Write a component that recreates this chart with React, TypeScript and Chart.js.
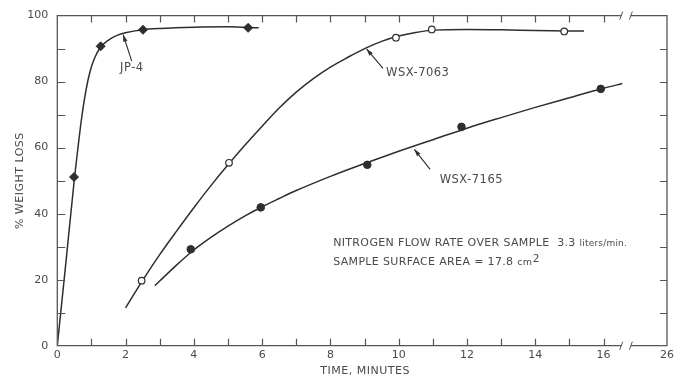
import React, { useEffect, useRef } from 'react';
import { Chart, registerables } from 'chart.js';

Chart.register(...registerables);

// ---- data ----
const jp4CurveX = [0, 0.25, 0.5, 0.6, 0.7, 0.8, 0.9, 1.0, 1.1, 1.25, 1.5, 1.75, 2.0, 2.5, 3.0, 4.0, 5.0, 5.9];
const jp4CurveY = [0, 25, 50.5, 59.5, 68, 75, 80.5, 84.5, 87.3, 90.2, 92.6, 94, 94.8, 95.7, 96.1, 96.5, 96.6, 96.3];
const jp4PointX = [0.49, 1.27, 2.51, 5.59];
const jp4PointY = [51.1, 90.7, 95.7, 96.3];

const wsx7063CurveX = [2.0, 2.5, 3.0, 3.5, 4.0, 4.5, 5.0, 5.5, 6.0, 6.5, 7.0, 7.5, 8.0, 8.5, 9.0, 9.5, 10.0, 10.5, 11.0, 12.0, 13.0, 14.0, 15.43];
const wsx7063CurveY = [11.5, 19.8, 27.6, 34.8, 41.8, 48.5, 54.8, 60.8, 66.5, 72.0, 76.8, 80.9, 84.4, 87.3, 90.0, 92.2, 93.8, 94.9, 95.6, 95.8, 95.7, 95.5, 95.3];
const wsx7063PointX = [2.47, 5.03, 9.92, 10.97, 14.85];
const wsx7063PointY = [19.7, 55.4, 93.3, 95.8, 95.2];

const wsx7165CurveX = [2.86, 3.0, 3.5, 4.0, 4.5, 5.0, 5.5, 6.0, 6.5, 7.0, 8.0, 9.0, 10.0, 11.0, 12.0, 13.0, 14.0, 15.0, 16.0, 16.55];
const wsx7165CurveY = [18.2, 19.6, 24.5, 29.0, 32.8, 36.2, 39.3, 42.1, 44.6, 47.0, 51.3, 55.2, 58.9, 62.4, 65.9, 69.1, 72.2, 75.1, 78.0, 79.4];
const wsx7165PointX = [3.91, 5.96, 9.08, 11.84, 15.92];
const wsx7165PointY = [29.2, 41.9, 54.8, 66.3, 77.8];

const xTickValues = [0, 2, 4, 6, 8, 10, 12, 14, 16];
const xAxisEnd = 17.86; // position of the broken-axis end
const xAxisEndLabel = '26';
const xMinorTicks = [1, 2, 3, 4, 5, 6, 7, 8, 9, 10, 11, 12, 13, 14, 15, 16];
const yTickValues = [0, 20, 40, 60, 80, 100];
const yMinorTicks = [10, 20, 30, 40, 50, 60, 70, 80, 90];
const breakStartX = 16.52;
const breakEndX = 16.8;

const seriesNames = ['JP-4', 'WSX-7063', 'WSX-7165'];
const labelTextX = [1.84, 9.63, 11.2];
const labelTextY = [84.2, 82.75, 50.1];
const arrowFromX = [2.18, 9.54, 10.92];
const arrowFromY = [86.2, 84.0, 53.4];
const arrowToX = [1.93, 9.06, 10.46];
const arrowToY = [94.2, 89.9, 59.5];

const noteLine1 = 'NITROGEN FLOW RATE OVER SAMPLE';
const noteRate = '3.3';
const noteRateUnit = 'liters/min.';
const noteLine2 = 'SAMPLE SURFACE AREA = 17.8';
const noteAreaUnit = 'cm';
const noteAreaExp = '2';
const noteX = 8.08;
const noteY1 = 31.1;
const noteY2 = 25.4;

const xTitle = 'TIME, MINUTES';
const yTitle = '% WEIGHT LOSS';

// ---- style ----
const W = 679;
const H = 383;
const INK = '#2e2e2e';
const AXIS = '#555';
const TEXT = '#4a4a4a';
const FONT = '"DejaVu Sans", sans-serif';

const pts = (xs: number[], ys: number[]) => xs.map((x, i) => ({ x, y: ys[i] }));

const overlay = {
  id: 'overlay',
  afterDraw(chart: any) {
    const { ctx, chartArea: a, scales } = chart;
    const x = scales.x;
    const y = scales.y;
    ctx.save();
    ctx.strokeStyle = AXIS;
    ctx.lineWidth = 1.3;
    const bx0 = x.getPixelForValue(breakStartX);
    const bx1 = x.getPixelForValue(breakEndX);
    ctx.beginPath();
    ctx.moveTo(bx0, a.top);
    ctx.lineTo(a.left, a.top);
    ctx.lineTo(a.left, a.bottom);
    ctx.lineTo(bx0, a.bottom);
    ctx.moveTo(bx1, a.bottom);
    ctx.lineTo(a.right, a.bottom);
    ctx.lineTo(a.right, a.top);
    ctx.lineTo(bx1, a.top);
    ctx.stroke();
    // break marks
    ctx.lineWidth = 1;
    ctx.beginPath();
    for (const yy of [a.top, a.bottom]) {
      for (const bx of [bx0, bx1]) {
        ctx.moveTo(bx - 1.5, yy + 4);
        ctx.lineTo(bx + 1.5, yy - 4);
      }
    }
    ctx.stroke();
    // inner ticks
    ctx.lineWidth = 1.2;
    ctx.beginPath();
    for (const v of xMinorTicks) {
      const px = Math.round(x.getPixelForValue(v)) + 0.5;
      ctx.moveTo(px, a.bottom);
      ctx.lineTo(px, a.bottom - 7);
      ctx.moveTo(px, a.top);
      ctx.lineTo(px, a.top + 7);
    }
    for (const v of yMinorTicks) {
      const py = Math.round(y.getPixelForValue(v)) + 0.5;
      ctx.moveTo(a.left, py);
      ctx.lineTo(a.left + 8, py);
      ctx.moveTo(a.right, py);
      ctx.lineTo(a.right - 7, py);
    }
    ctx.stroke();

    // series labels with arrows
    ctx.fillStyle = TEXT;
    ctx.strokeStyle = INK;
    ctx.font = `11.5px ${FONT}`;
    (ctx as any).letterSpacing = '0.5px';
    ctx.textBaseline = 'middle';
    ctx.textAlign = 'left';
    seriesNames.forEach((name, i) => {
      ctx.fillText(name, x.getPixelForValue(labelTextX[i]), y.getPixelForValue(labelTextY[i]));
      const fx = x.getPixelForValue(arrowFromX[i]);
      const fy = y.getPixelForValue(arrowFromY[i]);
      const tx = x.getPixelForValue(arrowToX[i]);
      const ty = y.getPixelForValue(arrowToY[i]);
      ctx.lineWidth = 1.1;
      ctx.beginPath();
      ctx.moveTo(fx, fy);
      ctx.lineTo(tx, ty);
      ctx.stroke();
      const ang = Math.atan2(ty - fy, tx - fx);
      const L = 7;
      const Wd = 2.2;
      ctx.beginPath();
      ctx.moveTo(tx, ty);
      ctx.lineTo(tx - L * Math.cos(ang) + Wd * Math.sin(ang), ty - L * Math.sin(ang) - Wd * Math.cos(ang));
      ctx.lineTo(tx - L * Math.cos(ang) - Wd * Math.sin(ang), ty - L * Math.sin(ang) + Wd * Math.cos(ang));
      ctx.closePath();
      ctx.fillStyle = INK;
      ctx.fill();
      ctx.fillStyle = TEXT;
    });

    // note
    const nx = x.getPixelForValue(noteX);
    const ny1 = y.getPixelForValue(noteY1);
    const ny2 = y.getPixelForValue(noteY2);
    ctx.font = `11px ${FONT}`;
    (ctx as any).letterSpacing = '0.35px';
    ctx.fillText(noteLine1, nx, ny1);
    const w1 = ctx.measureText(noteLine1 + '  ').width;
    ctx.fillText(noteRate, nx + w1, ny1);
    const w2 = ctx.measureText(noteRate + ' ').width;
    ctx.font = `9px ${FONT}`;
    (ctx as any).letterSpacing = '0.2px';
    ctx.fillText(noteRateUnit, nx + w1 + w2, ny1 + 0.5);
    ctx.font = `11px ${FONT}`;
    (ctx as any).letterSpacing = '0.35px';
    ctx.fillText(noteLine2, nx, ny2);
    const w3 = ctx.measureText(noteLine2 + ' ').width;
    ctx.font = `9.5px ${FONT}`;
    (ctx as any).letterSpacing = '0.2px';
    ctx.fillText(noteAreaUnit, nx + w3, ny2 + 0.5);
    const w4 = ctx.measureText(noteAreaUnit).width;
    ctx.font = `10.5px ${FONT}`;
    ctx.fillText(noteAreaExp, nx + w3 + w4 + 0.5, ny2 - 2.5);

    // axis titles
    ctx.font = `11px ${FONT}`;
    (ctx as any).letterSpacing = '0.5px';
    ctx.textAlign = 'center';
    ctx.fillText(xTitle, (a.left + a.right) / 2 + 3, 371);
    ctx.save();
    ctx.translate(20, (a.top + a.bottom) / 2);
    ctx.rotate(-Math.PI / 2);
    ctx.fillText(yTitle, 0, 0);
    ctx.restore();
    (ctx as any).letterSpacing = '0px';
    ctx.restore();
  },
};

export default function App() {
  const ref = useRef<HTMLCanvasElement | null>(null);
  useEffect(() => {
    if (!ref.current) return;
    const lineDs = (label: string, xs: number[], ys: number[]) => ({
      label,
      data: pts(xs, ys),
      showLine: true,
      borderColor: INK,
      borderWidth: 1.5,
      pointRadius: 0,
      cubicInterpolationMode: 'monotone' as const,
      fill: false,
    });
    const chart = new Chart(ref.current, {
      type: 'scatter',
      data: {
        datasets: [
          {
            label: 'JP-4 points',
            data: pts(jp4PointX, jp4PointY),
            pointStyle: 'rectRot',
            pointRadius: 4.5,
            backgroundColor: INK,
            borderColor: INK,
            borderWidth: 1,
            showLine: false,
          },
          {
            label: 'WSX-7063 points',
            data: pts(wsx7063PointX, wsx7063PointY),
            pointStyle: 'circle',
            pointRadius: 3.3,
            backgroundColor: '#ffffff',
            borderColor: INK,
            borderWidth: 1.2,
            showLine: false,
          },
          {
            label: 'WSX-7165 points',
            data: pts(wsx7165PointX, wsx7165PointY),
            pointStyle: 'circle',
            pointRadius: 3.8,
            backgroundColor: INK,
            borderColor: INK,
            borderWidth: 1,
            showLine: false,
          },
          lineDs('JP-4', jp4CurveX, jp4CurveY),
          lineDs('WSX-7063', wsx7063CurveX, wsx7063CurveY),
          lineDs('WSX-7165', wsx7165CurveX, wsx7165CurveY),
        ],
      },
      options: {
        animation: false,
        responsive: false,
        devicePixelRatio: 1,
        layout: { padding: { top: 11.7, right: 12, left: 0, bottom: 0 } },
        plugins: { legend: { display: false }, tooltip: { enabled: false } },
        scales: {
          x: {
            type: 'linear',
            min: 0,
            max: xAxisEnd,
            grid: { display: false, drawTicks: false },
            border: { display: false },
            afterBuildTicks: (s: any) => {
              s.ticks = [...xTickValues, xAxisEnd].map((v) => ({ value: v }));
            },
            afterFit: (s: any) => {
              s.height = 37.3;
            },
            ticks: {
              autoSkip: false,
              maxRotation: 0,
              padding: 3,
              color: TEXT,
              font: { family: FONT, size: 11 },
              callback: (v: any) => (Math.abs(v - xAxisEnd) < 1e-6 ? xAxisEndLabel : String(v)),
            },
          },
          y: {
            type: 'linear',
            min: 0,
            max: 100,
            grid: { display: false, drawTicks: false },
            border: { display: false },
            afterBuildTicks: (s: any) => {
              s.ticks = yTickValues.map((v) => ({ value: v }));
            },
            afterFit: (s: any) => {
              s.width = 57.3;
            },
            ticks: {
              padding: 9,
              color: TEXT,
              font: { family: FONT, size: 11 },
            },
          },
        },
      },
      plugins: [overlay],
    });
    return () => chart.destroy();
  }, []);
  return (
    <div style={{ position: 'fixed', left: 0, top: 0, width: W, height: H, background: '#fff' }}>
      <canvas ref={ref} width={W} height={H} style={{ width: W, height: H, display: 'block' }} />
    </div>
  );
}
